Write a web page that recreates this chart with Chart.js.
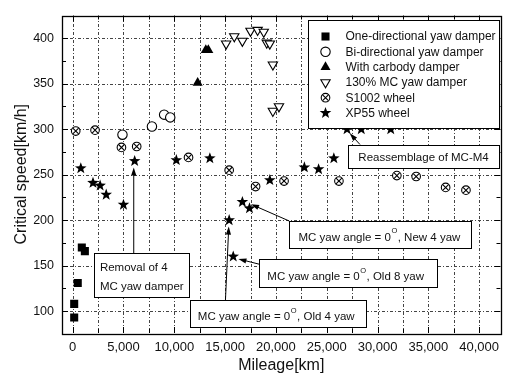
<!DOCTYPE html>
<html><head><meta charset="utf-8">
<script src="https://cdn.jsdelivr.net/npm/chart.js@4/dist/chart.umd.min.js"></script>
<style>html,body{margin:0;padding:0;background:#fff;}#wrap{width:507px;height:381px;}</style>
</head><body><div id="wrap"><canvas id="c" width="507" height="381"></canvas></div>
<script>
// ---------- data ----------
const seriesNames = ['One-directional yaw damper','Bi-directional yaw damper','With carbody damper','130% MC yaw damper','S1002 wheel','XP55 wheel'];
const oneDirX = [150, 150, 500, 900, 1200];
const oneDirY = [93, 108, 131, 170, 166];
const biDirX = [4900, 7800, 9000, 9600];
const biDirY = [294, 303, 316, 313];
const carbodyX = [12300, 13100, 13350];
const carbodyY = [351, 387, 387];
const mc130X = [15100, 15900, 16700, 17500, 18200, 18800, 19100, 19400, 19700, 19700, 20300];
const mc130Y = [394, 402, 397, 408, 409, 407, 395, 394, 371, 320, 325];
const s1002X = [300, 2200, 4800, 6300, 11400, 15400, 18000, 20800, 26200, 31900, 33800, 36700, 38700];
const s1002Y = [298, 299, 280, 281, 269, 255, 237, 243, 243, 249, 248, 236, 233];
const xp55X = [800, 2000, 2700, 3300, 5000, 6100, 10200, 13500, 15400, 15800, 16700, 17400, 19400, 22800, 24200, 25700, 27000, 28400, 31300];
const xp55Y = [257, 241, 238, 228, 217, 265, 266, 268, 200, 160, 220, 213, 244, 258, 256, 268, 300, 300, 300];

const xTicks = [0,2500,5000,7500,10000,12500,15000,17500,20000,22500,25000,27500,30000,32500,35000,37500,40000];
const xLabelTicks = [0,5000,10000,15000,20000,25000,30000,35000,40000];
const yTicks = [100,125,150,175,200,225,250,275,300,325,350,375,400];
const yLabelTicks = [100,150,200,250,300,350,400];
const xTitle = 'Mileage[km]';
const yTitle = 'Critical speed[km/h]';

// annotation texts
const noteRemoval = [['Removal of 4'], ['MC yaw damper']];
const noteOld4 = [['MC yaw angle = 0', '^O', ', Old 4 yaw']];
const noteOld8 = [['MC yaw angle = 0', '^O', ', Old 8 yaw']];
const noteNew4 = [['MC yaw angle = 0', '^O', ', New 4 yaw']];
const noteReas = [['Reassemblage of MC-M4']];

// ---------- styling / layout ----------
const F = '"Liberation Sans", Arial, sans-serif';
const notes = [
  {lines: noteRemoval, box:[2118,11435,163.6,115.7], from:[6010,163.6], to:[6010,258], pad:5.7, dy:2},
  {lines: noteOld4, box:[11572,28891,111.9,82.1], from:[15034,111.9], to:[15360,193], pad:7.6, dy:3},
  {lines: noteOld8, box:[18368,35854,157.2,126.3], from:[18368,151.6], to:[16309,157.4], pad:8, dy:3.5},
  {lines: noteNew4, box:[21310,39227,199.1,169.6], from:[21310,199.1], to:[17554,217.5], pad:9.3, dy:3},
  {lines: noteReas, box:[27126,41973,283.2,257.6], from:[28273,283.2], to:[27263,295.5], pad:10, dy:2}
];

// marker styles (Chart.js built-in point styles; cross & star overlays drawn at the library's point positions)
const markerStyles = [
  {pointStyle:'rect', pointRadius:5.7, pointRotation:0, backgroundColor:'#000', borderColor:'#000', borderWidth:0},
  {pointStyle:'circle', pointRadius:4.7, pointRotation:0, backgroundColor:'#fff', borderColor:'#000', borderWidth:1.1},
  {pointStyle:'triangle', pointRadius:5.8, pointRotation:0, backgroundColor:'#000', borderColor:'#000', borderWidth:0},
  {pointStyle:'triangle', pointRadius:5.4, pointRotation:180, backgroundColor:'#fff', borderColor:'#000', borderWidth:1.1},
  {pointStyle:'circle', pointRadius:4.3, pointRotation:0, backgroundColor:'#fff', borderColor:'#000', borderWidth:1.1},
  {pointStyle:'circle', pointRadius:0, pointRotation:0, backgroundColor:'#000', borderColor:'#000', borderWidth:0}
];

function pathStar(ctx,x,y){ctx.beginPath();for(let i=0;i<10;i++){const r=i%2?2.5:6.1;const a=-Math.PI/2+i*Math.PI/5;const px=x+r*Math.cos(a),py=y+r*Math.sin(a);i?ctx.lineTo(px,py):ctx.moveTo(px,py);}ctx.closePath();ctx.fillStyle='#000';ctx.fill();}
function pathCross(ctx,x,y){ctx.beginPath();ctx.moveTo(x-2.9,y-2.9);ctx.lineTo(x+2.9,y+2.9);ctx.moveTo(x+2.9,y-2.9);ctx.lineTo(x-2.9,y+2.9);ctx.strokeStyle='#000';ctx.lineWidth=1.1;ctx.stroke();}
function legendMarker(ctx,i,x,y){
  const s=markerStyles[i];
  if(i===5){pathStar(ctx,x,y);return;}
  ctx.beginPath();
  if(s.pointStyle==='rect'){const h=s.pointRadius*Math.SQRT1_2;ctx.rect(x-h,y-h,2*h,2*h);}
  else if(s.pointStyle==='circle'){ctx.arc(x,y,s.pointRadius,0,Math.PI*2);}
  else {let a=s.pointRotation*Math.PI/180;const r=s.pointRadius;ctx.moveTo(x+Math.sin(a)*r,y-Math.cos(a)*r);a+=2*Math.PI/3;ctx.lineTo(x+Math.sin(a)*r,y-Math.cos(a)*r);a+=2*Math.PI/3;ctx.lineTo(x+Math.sin(a)*r,y-Math.cos(a)*r);ctx.closePath();}
  ctx.fillStyle=s.backgroundColor;ctx.fill();
  if(s.borderWidth>0){ctx.lineWidth=s.borderWidth;ctx.strokeStyle=s.borderColor;ctx.stroke();}
  if(i===4) pathCross(ctx,x,y);
}

function pts(xs, ys){return xs.map((x,i)=>({x:x,y:ys[i]}));}
const seriesData = [pts(oneDirX,oneDirY),pts(biDirX,biDirY),pts(carbodyX,carbodyY),pts(mc130X,mc130Y),pts(s1002X,s1002Y),pts(xp55X,xp55Y)];
const datasets = seriesNames.map((n,i)=>Object.assign({label:n,data:seriesData[i],showLine:false,pointHoverRadius:0}, markerStyles[i]));

function drawParts(ctx, parts, x, y){
  for(const p of parts){
    if(p.startsWith('^')){
      ctx.font='7.5px '+F; const t=p.slice(1);
      ctx.fillText(t,x+0.5,y-6); x+=ctx.measureText(t).width+1;
    } else {
      ctx.font='11.5px '+F; ctx.fillText(p,x,y); x+=ctx.measureText(p).width;
    }
  }
}

const GRID = '#444444';
const PATTERN = [3,2,1,2]; // dash, gap, dot, gap (px)
function dashedV(ctx, x, y0, y1){let y=y0,k=0;while(y<y1){const step=PATTERN[k%4];if(k%2===0)ctx.fillRect(x,y,1,Math.min(step,y1-y));y+=step;k++;}}
function dashedH(ctx, y, x0, x1){let x=x0,k=0;while(x<x1){const step=PATTERN[k%4];if(k%2===0)ctx.fillRect(x,y,Math.min(step,x1-x),1);x+=step;k++;}}

const framePlugin = {
  id:'frame',
  beforeDatasetsDraw(chart){
    const {ctx, chartArea:ca, scales:{x:X,y:Y}} = chart;
    const t=Math.round(ca.top), b=Math.round(ca.bottom), l=Math.round(ca.left), r=Math.round(ca.right);
    ctx.save();
    ctx.fillStyle=GRID;
    for(const v of xTicks){dashedV(ctx, Math.round(X.getPixelForValue(v)), t, b);}
    for(const v of yLabelTicks){dashedH(ctx, Math.round(Y.getPixelForValue(v)), l, r);}
    ctx.restore();
  },
  afterDatasetsDraw(chart){
    const {ctx, chartArea:ca, scales:{x:X,y:Y}} = chart;
    ctx.save();
    // overlays at the library's computed point positions
    chart.getDatasetMeta(4).data.forEach(el=>pathCross(ctx, el.x, el.y));
    chart.getDatasetMeta(5).data.forEach(el=>pathStar(ctx, el.x, el.y));
    ctx.strokeStyle='#000'; ctx.lineWidth=1;
    // inward ticks on all sides
    for(const v of xTicks){const p=Math.round(X.getPixelForValue(v))+0.5;const L=xLabelTicks.includes(v)?6:4;
      ctx.beginPath();ctx.moveTo(p,ca.bottom);ctx.lineTo(p,ca.bottom-L);ctx.moveTo(p,ca.top);ctx.lineTo(p,ca.top+L);ctx.stroke();}
    for(const v of yTicks){const p=Math.round(Y.getPixelForValue(v))+0.5;const L=yLabelTicks.includes(v)?6:4;
      ctx.beginPath();ctx.moveTo(ca.left,p);ctx.lineTo(ca.left+L,p);ctx.moveTo(ca.right,p);ctx.lineTo(ca.right-L,p);ctx.stroke();}
    ctx.lineWidth=1.3;
    ctx.strokeRect(Math.round(ca.left)+0.5,Math.round(ca.top)+0.5,Math.round(ca.right-ca.left),Math.round(ca.bottom-ca.top));
    ctx.lineWidth=1;
    // annotations
    for(const n of notes){
      const x1=X.getPixelForValue(n.box[0]),x2=X.getPixelForValue(n.box[1]);
      const y1=Y.getPixelForValue(n.box[2]),y2=Y.getPixelForValue(n.box[3]);
      const fx=X.getPixelForValue(n.from[0]),fy=Y.getPixelForValue(n.from[1]);
      const tx=X.getPixelForValue(n.to[0]),ty=Y.getPixelForValue(n.to[1]);
      const a=Math.atan2(ty-fy,tx-fx);
      ctx.strokeStyle='#000';
      ctx.beginPath();ctx.moveTo(fx,fy);ctx.lineTo(tx-6*Math.cos(a),ty-6*Math.sin(a));ctx.stroke();
      ctx.beginPath();ctx.moveTo(tx,ty);
      ctx.lineTo(tx-8*Math.cos(a)+2.6*Math.sin(a),ty-8*Math.sin(a)-2.6*Math.cos(a));
      ctx.lineTo(tx-8*Math.cos(a)-2.6*Math.sin(a),ty-8*Math.sin(a)+2.6*Math.cos(a));
      ctx.closePath();ctx.fillStyle='#000';ctx.fill();
      const bx=Math.round(x1)+0.5,by=Math.round(y1)+0.5,bw=Math.round(x2-x1),bh=Math.round(y2-y1);
      ctx.fillStyle='#fff';ctx.fillRect(bx,by,bw,bh);ctx.strokeRect(bx,by,bw,bh);
      ctx.fillStyle='#111';ctx.textBaseline='middle';ctx.textAlign='left';
      const nl=n.lines.length, sp=19.5, cy=(y1+y2)/2+n.dy;
      n.lines.forEach((parts,i)=>drawParts(ctx,parts,x1+n.pad,cy+(i-(nl-1)/2)*sp));
    }
    // legend
    const lx=Math.round(ca.right-193)+0.5, ly=Math.round(ca.top+4)+0.5, lw=191, lh=108;
    ctx.fillStyle='#fff';ctx.fillRect(lx,ly,lw,lh);ctx.strokeStyle='#000';ctx.lineWidth=1;ctx.strokeRect(lx,ly,lw,lh);
    chart.data.datasets.forEach((d,i)=>{
      const yy=ly+16+i*15.3;
      ctx.save(); legendMarker(ctx,i,lx+17,yy); ctx.restore();
      ctx.font='12px '+F;ctx.fillStyle='#111';ctx.textBaseline='middle';ctx.textAlign='left';
      ctx.fillText(d.label, lx+37, yy+0.5);
    });
    ctx.restore();
  }
};

new Chart(document.getElementById('c'), {
  type:'scatter',
  data:{datasets},
  plugins:[framePlugin],
  options:{
    responsive:false, animation:false, devicePixelRatio:1,
    layout:{padding:{left:0,right:5,top:5,bottom:0}},
    plugins:{legend:{display:false},tooltip:{enabled:false}},
    scales:{
      x:{type:'linear',position:'bottom',min:-1050,max:42100,
        afterBuildTicks:s=>{s.ticks=xTicks.map(v=>({value:v}));},
        afterFit:s=>{s.height=48;},
        grid:{display:false,drawTicks:false},border:{display:false},
        ticks:{autoSkip:false,maxRotation:0,padding:7,color:'#111',font:{family:F,size:13},
          callback:v=>xLabelTicks.includes(v)?v.toLocaleString('en-US'):''},
        title:{display:true,text:xTitle,color:'#111',font:{family:F,size:16},padding:{top:0,bottom:6}}
      },
      y:{type:'linear',min:76,max:425,
        afterBuildTicks:s=>{s.ticks=yTicks.map(v=>({value:v}));},
        afterFit:s=>{s.width=62;},
        grid:{display:false,drawTicks:false},border:{display:false},
        ticks:{autoSkip:false,padding:8,color:'#111',font:{family:F,size:12.5},
          callback:v=>yLabelTicks.includes(v)?String(v):''},
        title:{display:true,text:yTitle,color:'#111',font:{family:F,size:16},padding:{top:12,bottom:0}}
      }
    }
  }
});
</script></body></html>
